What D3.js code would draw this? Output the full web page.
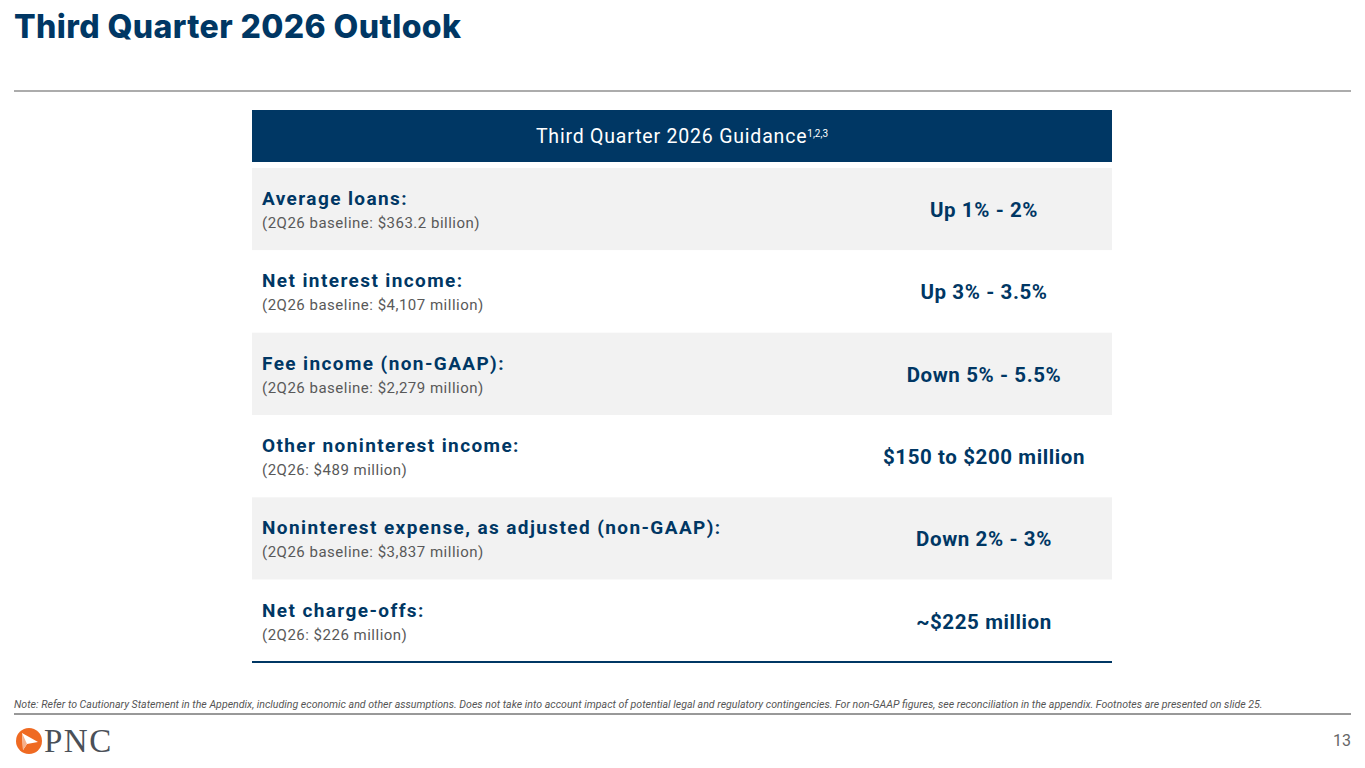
<!DOCTYPE html>
<html>
<head>
<meta charset="utf-8">
<script src="https://cdn.jsdelivr.net/npm/d3@7"></script>
<style>
  body { margin: 0; background: #fff; }
  svg text { font-family: Roboto, "Open Sans", sans-serif; }
</style>
</head>
<body>
<svg id="slide" width="1365" height="768"></svg>
<script>
// table content
var rowLabels = ["Average loans:", "Net interest income:", "Fee income (non-GAAP):",
                 "Other noninterest income:", "Noninterest expense, as adjusted (non-GAAP):", "Net charge-offs:"];
var rowBaselines = ["(2Q26 baseline: $363.2 billion)", "(2Q26 baseline: $4,107 million)", "(2Q26 baseline: $2,279 million)",
                    "(2Q26: $489 million)", "(2Q26 baseline: $3,837 million)", "(2Q26: $226 million)"];
var rowValues = ["Up 1% - 2%", "Up 3% - 3.5%", "Down 5% - 5.5%", "$150 to $200 million", "Down 2% - 3%", "~$225 million"];

var title = "Third Quarter 2026 Outlook";
var header = "Third Quarter 2026 Guidance";
var headerSup = "1,2,3";
var note = "Note: Refer to Cautionary Statement in the Appendix, including economic and other assumptions. Does not take into account impact of potential legal and regulatory contingencies. For non-GAAP figures, see reconciliation in the appendix. Footnotes are presented on slide 25.";
var pageNum = "13";

var navy = "#003764";
var svg = d3.select("#slide");

// title
svg.append("text")
   .attr("x", 14).attr("y", 38)
   .attr("fill", navy)
   .style("font-family", "Inter, sans-serif")
   .style("font-weight", 800)
   .style("font-size", "32px")
   .style("letter-spacing", "0.4px")
   .text(title);

svg.append("line")
   .attr("x1", 14).attr("x2", 1351).attr("y1", 91).attr("y2", 91)
   .attr("stroke", "#5a5a5a").attr("stroke-width", 1.2);

// table geometry
var tLeft = 252, tRight = 1112;
var y = d3.scaleBand()
          .domain(d3.range(rowLabels.length))
          .range([168, 662])
          .padding(0);

// header
svg.append("rect")
   .attr("x", tLeft).attr("y", 110)
   .attr("width", tRight - tLeft).attr("height", 52)
   .attr("fill", navy);

var ht = svg.append("text")
   .attr("x", (tLeft + tRight) / 2).attr("y", 143)
   .attr("text-anchor", "middle")
   .attr("fill", "#fff")
   .style("font-size", "19.5px")
   .style("letter-spacing", "0.8px");
ht.append("tspan").text(header);
ht.append("tspan").attr("dy", -6).style("font-size", "10px").style("letter-spacing", "0px").text(headerSup);

var rows = svg.selectAll("g.row")
   .data(rowLabels)
   .enter()
   .append("g")
   .attr("class", "row")
   .attr("transform", function(d, i) { return "translate(0," + y(i) + ")"; });

rows.append("rect")
   .attr("x", tLeft).attr("y", 0)
   .attr("width", tRight - tLeft).attr("height", y.bandwidth())
   .attr("fill", function(d, i) { return i % 2 === 0 ? "#f2f2f2" : "#fff"; });

rows.append("text")
   .attr("x", 262).attr("y", 37)
   .attr("fill", navy)
   .style("font-weight", 700)
   .style("font-size", "19px")
   .style("letter-spacing", "1.4px")
   .text(function(d) { return d; });

rows.append("text")
   .attr("x", 262).attr("y", 60)
   .attr("fill", "#595959")
   .style("font-size", "15px")
   .style("letter-spacing", "0.5px")
   .text(function(d, i) { return rowBaselines[i]; });

rows.append("text")
   .attr("x", 984).attr("y", 49)
   .attr("text-anchor", "middle")
   .attr("fill", navy)
   .style("font-weight", 700)
   .style("font-size", "20.5px")
   .style("letter-spacing", "0.6px")
   .text(function(d, i) { return rowValues[i]; });

svg.append("line")
   .attr("x1", tLeft).attr("x2", tRight).attr("y1", 662).attr("y2", 662)
   .attr("stroke", navy).attr("stroke-width", 2);

// footer
svg.append("text")
   .attr("x", 14).attr("y", 708)
   .attr("fill", "#555")
   .style("font-style", "italic")
   .style("font-size", "10.6px")
   .text(note);

svg.append("line")
   .attr("x1", 14).attr("x2", 1351).attr("y1", 714).attr("y2", 714)
   .attr("stroke", "#333").attr("stroke-width", 1);

svg.append("text")
   .attr("x", 1351).attr("y", 746)
   .attr("text-anchor", "end")
   .attr("fill", "#666")
   .style("font-size", "16px")
   .text(pageNum);

// PNC logo
var logo = svg.append("g").attr("transform", "translate(29,741)");
logo.append("circle").attr("r", 13).attr("fill", "#ef6a22");
logo.append("path")
    .attr("d", "M-7,-8 L9,1 L-2,3 L-6,9 Z")
    .attr("fill", "#fff");
logo.append("path")
    .attr("d", "M-7,-8 L-2,3 L-6,9 Z")
    .attr("fill", "#f6b08a");
svg.append("text")
   .attr("x", 44).attr("y", 752)
   .attr("fill", "#4a5058")
   .style("font-family", "'Liberation Serif', serif")
   .style("font-size", "33px")
   .style("letter-spacing", "1.5px")
   .text("PNC");
</script>
</body>
</html>
